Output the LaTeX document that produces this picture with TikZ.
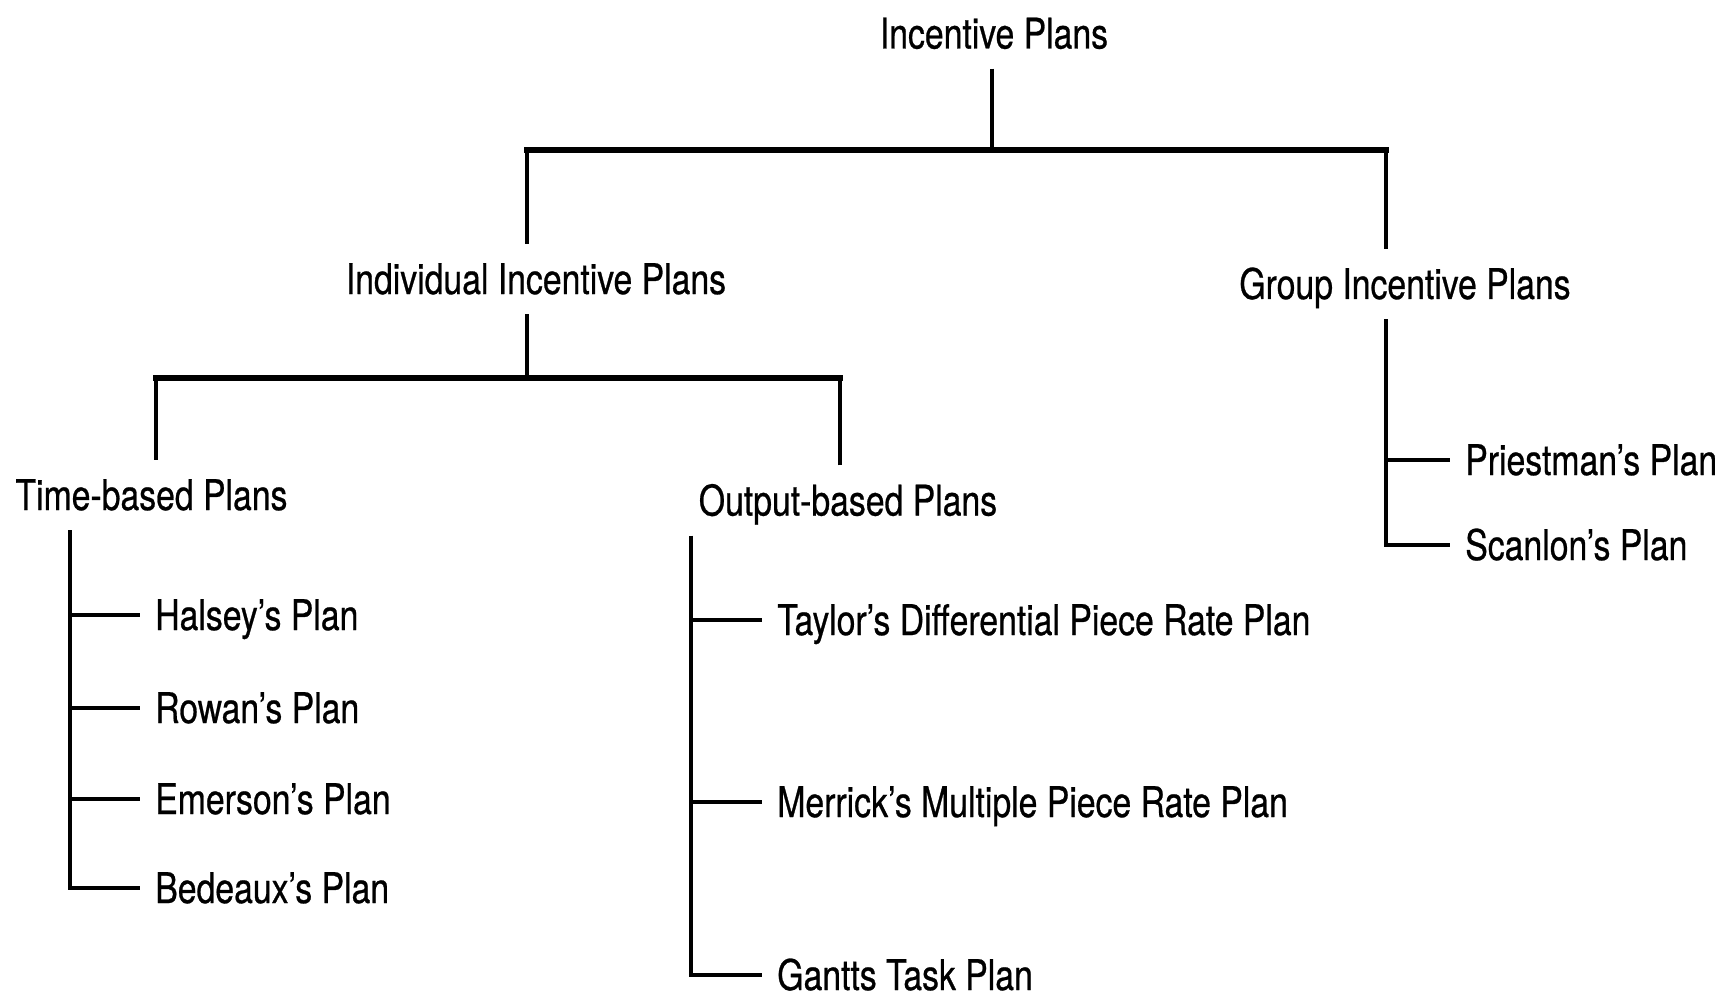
\documentclass[tikz,border=0pt]{standalone}
\usepackage{fontspec}
\setmainfont[FakeStretch=0.8,FakeBold=0.6]{TeX Gyre Heros}
\begin{document}
\begin{tikzpicture}[x=0.01cm,y=-0.01cm,
    line width=1.3pt,
    head/.style={inner sep=0pt,outer xsep=0pt,outer ysep=0.2cm,
      text height=0.3cm,text depth=0pt,font=\fontsize{12}{14}\selectfont},
    leaf/.style={anchor=west,inner xsep=0.13cm,inner ysep=0pt,
      text height=0.3cm,text depth=0pt,font=\fontsize{12}{14}\selectfont},
    bus/.style={line width=1.7pt,line cap=rect}]
    \useasboundingbox (0,0) rectangle (1734,1001);
    \begin{scope}[shift={(0,0)}]
      % headings
      \node[head](top) at (994,33.5) {Incentive Plans};
      \node[head](indiv) at (536,279) {Individual Incentive Plans};
      \node[head](group) at (1405,284) {Group Incentive Plans};
      \node[head](time) at (151.5,495) {Time-based Plans};
      \node[head](output) at (848,500.5) {Output-based Plans};
      % plans
      \node[leaf](halsey) at (140,615) {Halsey's Plan};
      \node[leaf](rowan) at (140,708) {Rowan's Plan};
      \node[leaf](emerson) at (140,799) {Emerson's Plan};
      \node[leaf](bedeaux) at (140,888) {Bedeaux's Plan};
      \node[leaf](taylor) at (762,620) {Taylor's Differential Piece Rate Plan};
      \node[leaf](merrick) at (762,802) {Merrick's Multiple Piece Rate Plan};
      \node[leaf](gantt) at (762,975) {Gantts Task Plan};
      \node[leaf](priest) at (1450,460) {Priestman's Plan};
      \node[leaf](scanlon) at (1450,545) {Scanlon's Plan};
      % bus points
      \coordinate(J0) at (992,150);
      \coordinate(J1) at (527,150);
      \coordinate(J2) at (1386,150);
      \coordinate(K0) at (527,378);
      \coordinate(K1) at (156,378);
      \coordinate(K2) at (840,378);
      \coordinate(T0) at (70,0);
      \coordinate(O0) at (691,0);
      % connectors
      \draw(J0 |- top.south)--(J0);
      \draw[bus](J1)--(J2);
      \draw(J1 |- indiv.north)--(J1);
      \draw(J2 |- group.north)--(J2);
      \draw(K0 |- indiv.south)--(K0);
      \draw[bus](K1)--(K2);
      \draw(K1 |- time.north)--(K1);
      \draw(K2 |- output.north)--(K2);
      \draw(T0 |- time.south)|-(bedeaux.west);
      \draw(O0 |- output.south)|-(gantt.west);
      \draw(J2 |- group.south)|-(scanlon.west);
      \foreach \p in {halsey,rowan,emerson}{
        \draw(T0 |- \p.west)--(\p.west);
      }
      \draw(O0 |- taylor.west)--(taylor.west);
      \draw(O0 |- merrick.west)--(merrick.west);
      \draw(J2 |- priest.west)--(priest.west);
    \end{scope}
  \end{tikzpicture}
\end{document}
